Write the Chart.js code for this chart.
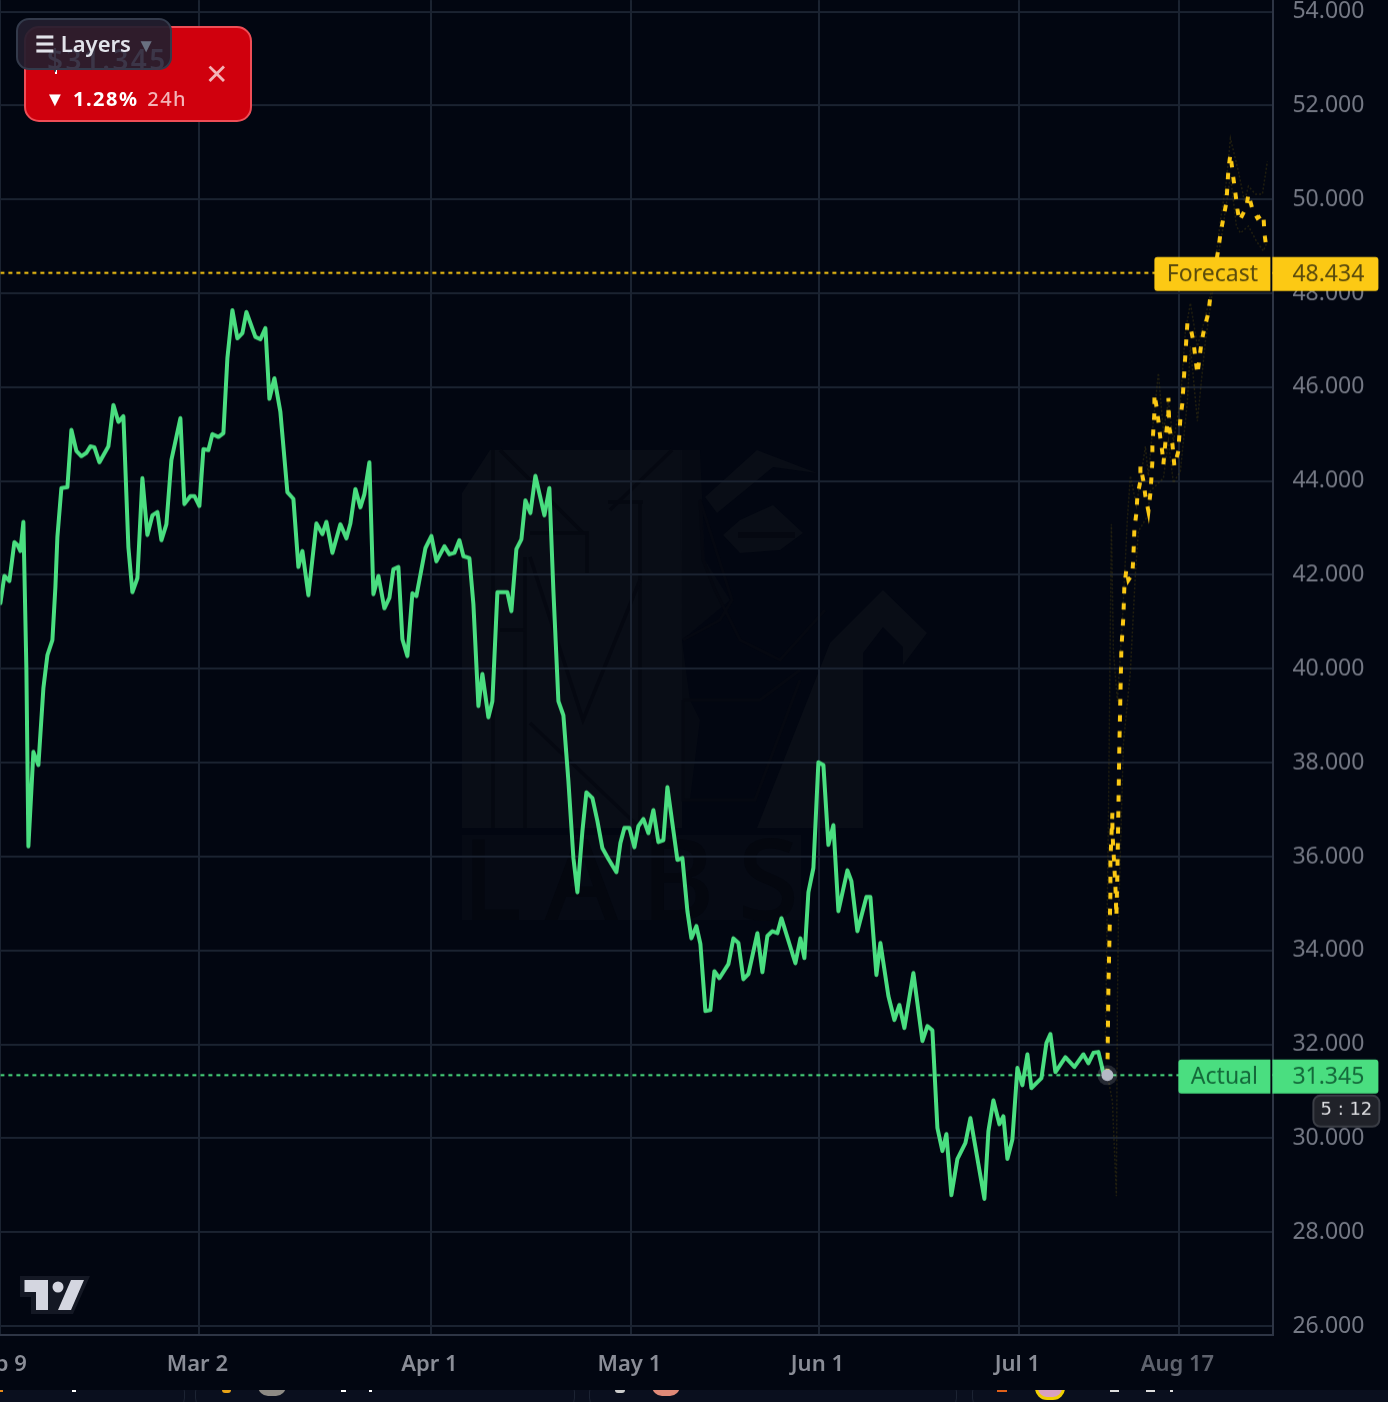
<!DOCTYPE html>
<html><head><meta charset="utf-8">
<style>
html,body{margin:0;padding:0;background:#020611;width:1388px;height:1402px;overflow:hidden}
#wrap{position:relative;width:1388px;height:1402px;overflow:hidden;font-family:"Noto Sans",sans-serif}
#wm,#logo{position:absolute;left:0;top:0}
#cbox{position:absolute;left:0;top:0;width:1500px;height:1500px}
#strip{position:absolute;left:0;top:1390px;width:1388px;height:12px;background:#0a0f1e;overflow:hidden}
#strip i{position:absolute;display:block}
.card{top:-10px;height:30px;border:1px solid #1c2333;border-radius:12px;box-sizing:border-box}
#red{position:absolute;left:24px;top:26px;width:228px;height:96px;box-sizing:border-box;background:#d0000d;border:2px solid #ef4d56;border-radius:15px}
#pct{position:absolute;left:45px;top:85px;color:#fff;font-size:20px;font-weight:700;letter-spacing:1.5px;white-space:nowrap}
#pct span{color:#f3b3b7;font-weight:500;margin-left:2px}
#x{position:absolute;left:205px;top:58px;color:#f3b3b7;font-size:28px;line-height:30px;font-weight:400}
#layers{position:absolute;left:16px;top:18px;width:156px;height:52px;box-sizing:border-box;background:rgba(34,30,46,.93);border:2px solid #333a4b;border-radius:13px}
#ltext{position:absolute;left:35px;top:19px;z-index:2;color:#e2e3ea;font-size:22px;font-weight:600;line-height:48px;white-space:nowrap}
#ltext b{color:#697080;font-weight:400;font-size:19px}
#ghost{position:absolute;left:47px;top:40px;z-index:1;color:#3c3648;font-size:28px;font-weight:600;letter-spacing:2.4px}
#stem{position:absolute;left:55px;top:70px;width:2px;height:4px;background:#fff}
</style></head><body>
<div id="wrap">
<svg id="wm" width="1388" height="1402">
 <g fill="#090d16" stroke="none">
  <path d="M462 493L490 450H682V828H462Z"/>
  <path d="M682 650L680 450H700L705 560L730 600L682 640L690 700L700 720L690 800H682Z" opacity=".5"/>
  <path d="M830 643L883 590L927 633L903 665V647L883 627L863 653V828H757Z"/>
  <path d="M705 497L757 450L817 473L773 467L717 513Z"/>
  <path d="M723 535L740 520L773 505L803 533L780 550L740 553Z"/>
  <path d="M462 835H801V920H462Z" opacity=".7"/>
 </g>
 <g fill="none" stroke="#050811" stroke-width="3.5">
  <path d="M493 450V828"/><path d="M500 450L583 533"/><path d="M525 557V828"/>
  <path d="M530 533H587V573"/><path d="M640 503V828"/><path d="M608 502H643"/>
  <path d="M530 557L583 720L640 580"/><path d="M530 723L640 828"/>
  <path d="M500 630H525"/><path d="M672 450L610 510"/>
 </g>
 <path d="M738 535H795" stroke="#050811" stroke-width="6"/>
 <path d="M683 640L720 620L732 600L700 500L703 560L715 590L740 640L780 660L825 610M683 700L760 700L800 670M683 700V800H755L800 680" fill="none" stroke="#050811" stroke-width="3"/>
 <text x="462" y="920" font-family="Noto Sans" font-size="112" font-weight="500" letter-spacing="23" fill="#04070f">LABS</text>
</svg>
<div id="cbox"><canvas id="c" width="1388" height="1402" style="position:absolute"></canvas></div>
<svg id="logo" width="1388" height="1402">
 <path d="M20 1276H90L73 1314H31V1297H20Z" fill="#141824"/>
 <path d="M24.5 1280H48V1310H36V1292H24.5Z M71 1280H84L71 1310H58Z" fill="#d4d6e0"/>
 <circle cx="58" cy="1287" r="5.5" fill="#d4d6e0"/>
</svg>
<div id="strip">
 <i class="card" style="left:-20px;width:205px"></i><i class="card" style="left:195px;width:380px"></i><i class="card" style="left:589px;width:368px"></i><i class="card" style="left:972px;width:430px"></i>
 <i style="left:0;top:0;width:3px;height:2px;background:#e88b1a"></i>
 <i style="left:72px;top:0;width:4px;height:2px;background:#fff"></i>
 <i style="left:222px;top:0;width:9px;height:3px;background:#e8a317;border-radius:0 0 5px 5px"></i>
 <i style="left:258px;top:-14px;width:28px;height:20px;background:#8d8a84;border-radius:14px"></i>
 <i style="left:341px;top:0;width:5px;height:2px;background:#fff"></i>
 <i style="left:369px;top:0;width:3px;height:2px;background:#fff"></i>
 <i style="left:615px;top:0;width:10px;height:3px;background:#ccc;border-radius:0 0 5px 5px"></i>
 <i style="left:652px;top:-14px;width:28px;height:20px;background:#e08a78;border-radius:14px"></i>
 <i style="left:997px;top:0;width:10px;height:2px;background:#e0601a"></i>
 <i style="left:1035px;top:-14px;width:24px;height:18px;border:3px solid #f0d000;border-radius:14px;background:#d8a0c0"></i>
 <i style="left:1110px;top:0;width:9px;height:2px;background:#ddd"></i>
 <i style="left:1146px;top:0;width:9px;height:2px;background:#ddd"></i>
 <i style="left:1170px;top:0;width:3px;height:2px;background:#ddd"></i>
</div>
<div id="red"></div>
<div id="pct">▼ 1.28% <span>24h</span></div>
<div id="x">✕</div>
<div id="stem"></div>
<div id="layers"></div>
<div id="ghost">$31.345</div>
<div id="ltext">☰ Layers <b>▼</b></div>
</div>
<script src="https://cdn.jsdelivr.net/npm/chart.js@4"></script>
<script>
const tickBars=[0,99.5,215.5,315.5,409.5,509.5,589.5];
const tickLabels=["Feb 9","Mar 2","Apr 1","May 1","Jun 1","Jul 1","Aug 17"];
const yTicks=[26000,28000,30000,32000,34000,36000,38000,40000,42000,44000,46000,48000,50000,52000,54000];
const forecastLevel=48434;
const actualLevel=31345;
const actualBars=[0,2,4.5,7,8.5,10,11.5,13,14,15.5,16.5,19,21.5,23.5,26,27.5,28.5,30.5,33.5,35.5,38,40.5,43,45,47,49.5,54,56.5,59,61.5,64,66,68.5,71,73.5,76,78.5,80.5,83,85.5,90,92,95,97,99.5,101.5,104,106,109,111.5,113.5,116,118.5,121,123,127.5,130,132.5,134.5,137,140,143.5,146.5,149,151,154,158,161,163,166,170,173,175,177.5,180,182,184.5,186.5,189,192,194.5,196.5,199,201,203.5,206,208,212.5,215.5,218,222,224.5,227,229.5,231.5,234.5,236.5,239,241,244,246,248.5,253.5,255.5,258,260.5,262.5,265,267.5,272,274.5,276.5,279,281.5,284,286.5,288.5,291,293,296,298.5,301,304,308,310,312,314.5,317,319,321.5,324,326.5,329,331.5,333.5,338.5,341,343.5,345.5,348,350,352.5,355,357,359.5,364,366.5,369,371.5,374,378.5,381,383.5,386,388.5,390.5,397.5,400,402,404,406.5,409,411.5,414,416.5,419,423.5,425.5,428.5,433,435,438,440,444,447,449.5,452,456.5,461,463.5,466,468.5,471,473,475.5,478.5,482.5,485,492,494,496.5,499.5,501.5,503.5,506,508.5,511,513.5,515.5,520.5,523,525,527.5,532.5,537,541.5,544,546.5,549,551.5,553.5];
const actualValues=[41400,41980,41870,42700,42640,42510,43130,39990,36220,37420,38230,37950,39590,40290,40610,41740,42810,43850,43870,45090,44640,44530,44600,44740,44720,44400,44740,45620,45260,45380,42590,41630,41930,44060,42850,43270,43340,42740,43080,44450,45340,43510,43680,43680,43470,44680,44660,45000,44940,45020,46620,47640,47040,47150,47600,47070,47020,47260,45750,46190,45470,43760,43620,42170,42510,41570,43100,42870,43130,42470,43080,42780,43100,43830,43440,43720,44400,41590,41980,41290,41510,42120,42170,40630,40270,41610,41550,42570,42830,42290,42610,42440,42470,42740,42400,42360,41380,39210,39890,38970,39310,41630,41630,41230,42550,42760,43590,43320,44110,43270,43850,41660,39310,39010,37610,35970,35240,36540,37370,37250,36760,36180,35950,35670,36290,36610,36610,36200,36650,36800,36500,36990,36310,36350,37480,35930,35970,34840,34260,34520,34140,32710,32730,33560,33410,33710,34260,34160,33390,33500,34370,33540,34310,34410,34370,34690,33730,34260,33840,35240,35760,38010,37950,36250,36670,34840,35710,35480,34410,35140,35140,33480,34160,33030,32520,32840,32350,33520,32070,32390,32300,30220,29730,30090,28790,29560,29900,30430,28710,30150,30810,30300,30470,29560,29980,31500,31130,31790,31070,31280,32030,32220,31410,31730,31520,31790,31600,31820,31840,31390,31345];
const forecastBars=[553.5,554,554.5,555,555,555,556,556,556.5,557.5,558,558.5,559,559.5,560,560.5,561.5,562,563,564,566,566.5,567,568,568.5,570,570,571.5,572.5,574,575,575.5,576,576,576.5,577,577,578,579,580,581,581.5,583,584,584,584.5,586,587,589,589.5,590,591,591.5,592,592.5,593,593.5,595,596.5,597.5,598.5,599.5,600.5,602,604,605,609,610,611.5,613,613.5,614,615,616.5,617.5,618.5,619.5,623,624,626,628.5,631.5,632,633];
const forecastValues=[31345,33200,34180,35200,35560,35900,36930,36540,36140,35370,34730,35650,37010,38400,39420,40440,41120,41780,42120,41890,42020,42400,42980,43320,43680,44000,44320,44000,43680,43360,43740,44060,44420,44740,45110,45450,45850,45600,45280,44910,44600,44360,45060,45430,45770,45130,44790,44320,44640,45000,45340,45660,46020,46360,46700,47040,47360,47280,46980,46620,46280,46600,46940,47260,47580,47940,48940,49260,49600,49940,50280,50640,50960,50450,50130,49790,49540,49840,50110,49790,49600,49690,49280,48960];
const upperBars=[552.5,554,555.5,556.5,558.5,561,563.5,565,568,572.5,574,576.5,579,581.5,584,586.5,590,592.5,595,598.5,602,606,610,613,615,619,622,624,627.5,631,633.5];
const upperValues=[32070,36760,43080,40380,39310,41020,43210,44110,43470,44740,44110,45280,46300,45060,45700,44850,45700,47190,47790,46870,47410,48150,49540,50390,51300,50600,49960,50280,50110,50110,50810];
const lowerBars=[553.5,556,558,558.5,559,561.5,565,567.5,569,573.5,575,581.5,584,586.5,590,593.5,595,598.5,602.5,607.5,611,615,618,620,624,628,631.5,633.5];
const lowerValues=[31345,30790,28770,32920,34580,38400,39950,42020,42930,43250,43790,44060,44850,43960,44210,45700,46870,45280,46980,48470,49320,50500,49430,49280,49430,49110,48900,49110];
const priceLineEnd=636.5;
const pts=(xs,ys)=>xs.map((x,i)=>({x,y:ys[i]}));
const fmt=v=>(v/1000).toFixed(3);
const GREEN='#4ade80',GOLD='#fcc914',GRID='#1b2331',AXIS='#2e3545';
const tagPlugin={id:'tags',afterDatasetsDraw(ch){
  const c=ch.ctx,y=ch.scales.y,ox=ch.chartArea.left,oy=ch.chartArea.top;
  c.save();c.translate(ox,oy);
  const tag=(level,name,left,bg,ink)=>{
    const cy=Math.round(y.getPixelForValue(level)-oy)+1;
    c.save();c.fillStyle=bg;
    c.beginPath();c.roundRect(left,cy-17,1270-left,34,[3,0,0,3]);c.fill();
    c.beginPath();c.roundRect(1272,cy-17,106,34,[0,3,3,0]);c.fill();
    c.fillStyle=ink;c.font='23px "Noto Sans"';c.textBaseline='middle';c.textAlign='center';
    c.fillText(name,(left+1270)/2,cy+1);
    c.textAlign='left';c.fillText(fmt(level),1292,cy+1);
    c.restore();
  };
  tag(forecastLevel,'Forecast',1154,GOLD,'#5a4b0d');
  tag(actualLevel,'Actual',1178,GREEN,'#14693a');
  c.fillStyle='#202229';c.strokeStyle='#3b3e46';c.lineWidth=2;
  c.beginPath();c.roundRect(1313,1095,66,31,7);c.fill();c.stroke();
  c.fillStyle='#dcdde0';c.font='18px "DejaVu Sans"';c.textAlign='center';c.textBaseline='middle';
  c.fillText('5 : 12',1346,1110);c.restore();
}};
const canvas=document.getElementById('c');
const chart=new Chart(canvas,{
 type:'line',
 data:{datasets:[
  {data:pts([553.5],[actualLevel]),pointRadius:6,pointBackgroundColor:'#b5b9c6',pointBorderWidth:0,showLine:false},
  {data:pts([553.5],[actualLevel]),pointRadius:10,pointBackgroundColor:'rgba(255,255,255,.14)',pointBorderWidth:0,showLine:false},
  {data:pts(actualBars,actualValues),borderColor:GREEN,borderWidth:4,pointRadius:0,borderJoinStyle:'round',borderCapStyle:'round'},
  {data:pts(forecastBars,forecastValues),borderColor:GOLD,borderWidth:4,borderDash:[6.5,9.5],pointRadius:0},
  {data:pts([0,priceLineEnd],[forecastLevel,forecastLevel]),borderColor:GOLD,borderWidth:2,borderDash:[4,4],pointRadius:0},
  {data:pts([0,priceLineEnd],[actualLevel,actualLevel]),borderColor:GREEN,borderWidth:2,borderDash:[4,4],pointRadius:0},
  {data:pts(upperBars,upperValues),borderColor:'rgba(90,75,15,.38)',borderWidth:1.5,borderDash:[2,2],pointRadius:0},
  {data:pts(lowerBars,lowerValues),borderColor:'rgba(90,75,15,.38)',borderWidth:1.5,borderDash:[2,2],pointRadius:0}
 ]},
 plugins:[tagPlugin],
 options:{
  responsive:false,maintainAspectRatio:false,animation:false,
  events:[],
  plugins:{legend:{display:false},tooltip:{enabled:false},title:{display:false}},
  scales:{
   x:{type:'linear',position:'bottom',min:0,max:636.5,
      afterBuildTicks(s){s.ticks=tickBars.map(v=>({value:v}));},
      afterFit(s){s.height=68;},
      grid:{color:GRID,lineWidth:2,drawTicks:false},
      border:{color:AXIS,width:2},
      ticks:{autoSkip:false,maxRotation:0,minRotation:0,padding:17,align:'center',labelOffset:-2,
        color(ctx){return ctx.index===6?'#5f636e':'#8a8d97';},
        font:{family:'"Noto Sans"',size:22,weight:'600'},
        callback(v,i){return tickLabels[i];}}},
   y:{type:'linear',position:'right',min:25815,max:54250,
      afterBuildTicks(s){s.ticks=yTicks.map(v=>({value:v}));},
      afterFit(s){s.width=115;},
      grid:{color:GRID,lineWidth:2,drawTicks:false},
      border:{color:AXIS,width:2},
      ticks:{padding:19,color:'#757985',font:{family:'"Noto Sans"',size:23},callback(v){return fmt(v);}}}
  }
 }
});
const oL=chart.chartArea.left,oT=chart.chartArea.top;
chart.resize(1388+oL,1402+oT);
canvas.style.left=(-oL)+'px';
canvas.style.top=(-oT)+'px';
</script>
</body></html>
